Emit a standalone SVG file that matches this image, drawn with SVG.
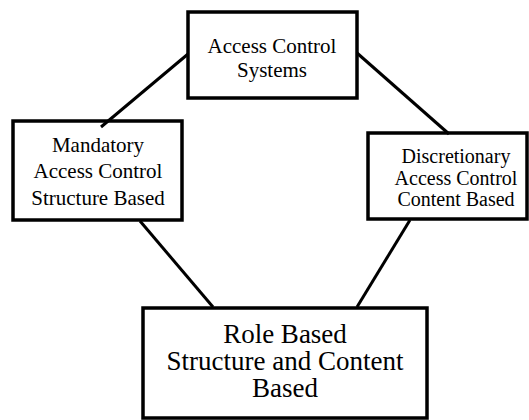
<svg xmlns="http://www.w3.org/2000/svg" width="529" height="420" viewBox="0 0 529 420">
<style>
.box{fill:#fff;stroke:#000;stroke-width:3.5}
.ln{stroke:#000;stroke-width:3;fill:none}
.t{font-family:"Liberation Serif","Times New Roman",serif;font-size:21px;fill:#000;text-anchor:middle}
.tb{font-family:"Liberation Serif","Times New Roman",serif;font-size:27px;fill:#000;text-anchor:middle}
</style>
<rect width="529" height="420" fill="#fff"/>
<g id="node-top">
<rect class="box" x="188" y="12" width="169" height="86"/>
<text class="t" x="272" y="53">Access Control</text>
<text class="t" x="272" y="77">Systems</text>
</g>
<g id="node-left">
<rect class="box" x="13" y="121" width="169" height="99"/>
<text class="t" x="98" y="152">Mandatory</text>
<text class="t" x="98" y="178">Access Control</text>
<text class="t" x="98" y="205">Structure Based</text>
</g>
<g id="node-right">
<rect class="box" x="368" y="133" width="159" height="86"/>
<text class="t" x="456" y="163" style="font-size:20px">Discretionary</text>
<text class="t" x="456" y="185" style="font-size:20px">Access Control</text>
<text class="t" x="456" y="206" style="font-size:20px">Content Based</text>
</g>
<g id="node-bottom">
<rect class="box" x="143" y="308" width="284" height="110"/>
<text class="tb" x="285" y="343">Role Based</text>
<text class="tb" x="285" y="370">Structure and Content</text>
<text class="tb" x="285" y="397">Based</text>
</g>
<g id="connectors">
<line class="ln" x1="188" y1="54" x2="101" y2="127"/>
<line class="ln" x1="357" y1="53" x2="449" y2="134"/>
<line class="ln" x1="140" y1="221" x2="213" y2="307"/>
<line class="ln" x1="410" y1="220" x2="357" y2="307"/>
</g>
</svg>
